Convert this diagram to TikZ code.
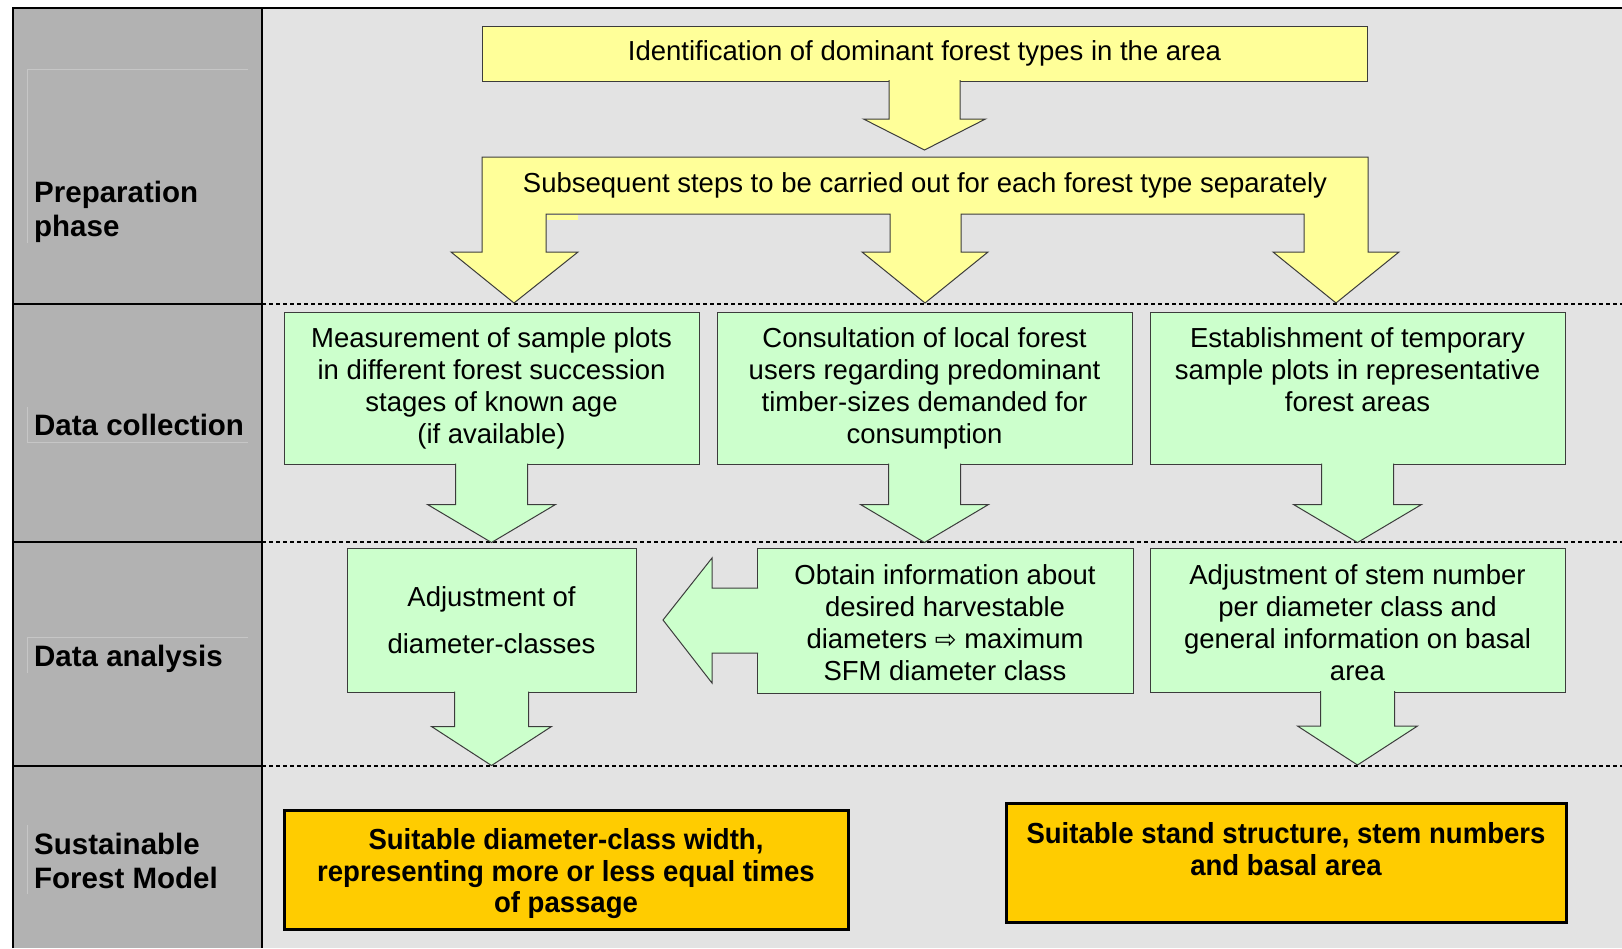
\documentclass[tikz,border=0pt]{standalone}
\usepackage{fontspec}
\setmainfont{Liberation Sans}
\newfontfamily\narrowfont[FakeStretch=0.95]{Liberation Sans}
\newfontfamily\arrowfont{DejaVu Sans}

\definecolor{phasegray}{HTML}{B2B2B2}
\definecolor{backgray}{HTML}{E3E3E3}
\definecolor{stepyellow}{HTML}{FFFF99}
\definecolor{stepgreen}{HTML}{CCFFCC}
\definecolor{resultorange}{HTML}{FFCC00}
\definecolor{edgegray}{HTML}{3C3C3C}
\definecolor{faintline}{HTML}{C6C6C6}

\tikzset{
  phaselabel/.style={anchor=west, align=left, inner sep=0pt, font=\bfseries\fontsize{29.5}{34}\selectfont},
  yellowbox/.style={draw=edgegray, fill=stepyellow, line width=1pt, inner sep=0pt, outer sep=0pt, font=\fontsize{27.5}{32}\selectfont},
  greenbox/.style={draw=edgegray, fill=stepgreen, line width=1pt, inner sep=0pt, outer sep=0pt, align=center,
    minimum width=415pt, minimum height=152pt, font=\fontsize{27.5}{32}\selectfont},
  resultbox/.style={draw=black, fill=resultorange, line width=3pt, inner sep=0pt, outer sep=0pt, align=center,
    minimum height=119pt, font=\narrowfont\bfseries\fontsize{29}{31.5}\selectfont},
  yellowarrow/.style={draw=edgegray, fill=stepyellow, line width=1pt},
  greenarrow/.style={draw=edgegray, fill=stepgreen, line width=1pt},
  rowline/.style={line width=1.5pt, dash pattern=on 4pt off 3pt},
}

\begin{document}
\begin{tikzpicture}[x=1pt,y=-1pt]
  \useasboundingbox (0,0) rectangle (1622,948);
  \fill[white] (0,0) rectangle (1622,948);
  \fill[phasegray] (13,8) rectangle (262,948);
  \fill[backgray] (262,8) rectangle (1622,948);

  % faint frames of the label boxes
  \draw[faintline, line width=0.8pt] (248,69) -- (27,69) -- (27,243);
  \draw[faintline, line width=0.8pt] (27,407) -- (27,442) -- (248,442);
  \draw[faintline, line width=0.8pt] (248,637) -- (27,637) -- (27,673);
  \draw[faintline, line width=0.8pt] (27,825) -- (27,894);

  % frame and rows
  \draw[line width=2pt] (13,948) -- (13,8) -- (1622,8);
  \draw[line width=2pt] (262,8) -- (262,948);
  \foreach \y in {304,542,766} {
    \draw[line width=2pt] (13,\y) -- (262,\y);
    \draw[rowline] (262,\y) -- (1622,\y);
  }

  % phase labels
  \node[phaselabel] (prep) at (34,212) {Preparation\\phase};
  \node[phaselabel, anchor=base west] (coll) at (34,435) {Data collection};
  \node[phaselabel, anchor=base west] (anal) at (34,666) {Data analysis};
  \node[phaselabel] (model) at (34,861) {Sustainable\\Forest Model};

  % preparation phase
  \node[yellowbox, minimum width=885pt, minimum height=55pt] (ident) at (924.5,53.5)
    {Identification of dominant forest types in the area};
  \path[yellowarrow] ([xshift=-35.5pt,yshift=1pt]ident.south) -- ++(0,39) -- ++(-25.5,0)
    -- ++(61,31) -- ++(61,-31) -- ++(-25.5,0) -- ++(0,-39);

  \path[yellowarrow] (482,157) -- (1368,157) -- (1368,252) -- (1399,252) -- (1336,303) -- (1273,252)
    -- (1304,252) -- (1304,214) -- (961,214) -- (961,252) -- (988,252) -- (925,303) -- (862,252)
    -- (890,252) -- (890,214) -- (546,214) -- (546,252) -- (578,252) -- (514,303) -- (451,252)
    -- (482,252) -- cycle;
  \fill[stepyellow] (546.5,214.5) rectangle (578,220);
  \node[inner sep=0pt, font=\fontsize{27.5}{32}\selectfont] (steps) at (925,185)
    {Subsequent steps to be carried out for each forest type separately};

  % data collection
  \node[greenbox] (measure) at (491.5,388.5)
    {Measurement of sample plots\\in different forest succession\\stages of known age\\(if available)};
  \node[greenbox] (consult) at (924.5,388.5)
    {Consultation of local forest\\users regarding predominant\\timber-sizes demanded for\\consumption};
  \node[greenbox] (establish) at (1357.5,388.5)
    {Establishment of temporary\\sample plots in representative\\forest areas\\\rule[-6pt]{0pt}{6pt}};
  \foreach \b in {measure,consult,establish} {
    \path[greenarrow] ([xshift=-36pt,yshift=1pt]\b.south) -- ++(0,41) -- ++(-28,0)
      -- ++(64,38) -- ++(64,-38) -- ++(-28,0) -- ++(0,-41);
  }

  % data analysis
  \node[greenbox, minimum width=289pt, minimum height=144pt, font=\fontsize{27.5}{47}\selectfont] (adjust)
    at (491.5,620.5) {Adjustment of\\diameter-classes};
  \node[greenbox, minimum width=376pt, minimum height=145pt] (obtain) at (945,620.5)
    {\rule{0pt}{25pt}Obtain information about\\desired harvestable\\diameters {\arrowfont\fontsize{26}{32}\selectfont ⇨} maximum\\SFM diameter class};
  \path[greenarrow] ([xshift=1pt,yshift=32.5pt]obtain.west) -- ++(-46,0) -- ++(0,-30)
    -- ++(-49,62) -- ++(49,63) -- ++(0,-30) -- ++(46,0);
  \node[greenbox, minimum height=144pt] (stem) at (1357.5,620)
    {\rule{0pt}{25pt}Adjustment of stem number\\per diameter class and\\general information on basal\\area};
  \foreach \b in {adjust,stem} {
    \path[greenarrow] ([xshift=-37pt,yshift=1pt]\b.south) -- ++(0,35) -- ++(-23,0)
      -- ++(60,39) -- ++(60,-39) -- ++(-23,0) -- ++(0,-35);
  }

  % sustainable forest model
  \node[resultbox, minimum width=564pt] (width) at (566,869.5)
    {\rule{0pt}{30pt}Suitable diameter-class width,\\representing more or less equal times\\of passage};
  \node[resultbox, minimum width=560pt] (structure) at (1286,862.5)
    {\rule{0pt}{25pt}Suitable stand structure, stem numbers\\and basal area\\\mbox{}};
\end{tikzpicture}
\end{document}
